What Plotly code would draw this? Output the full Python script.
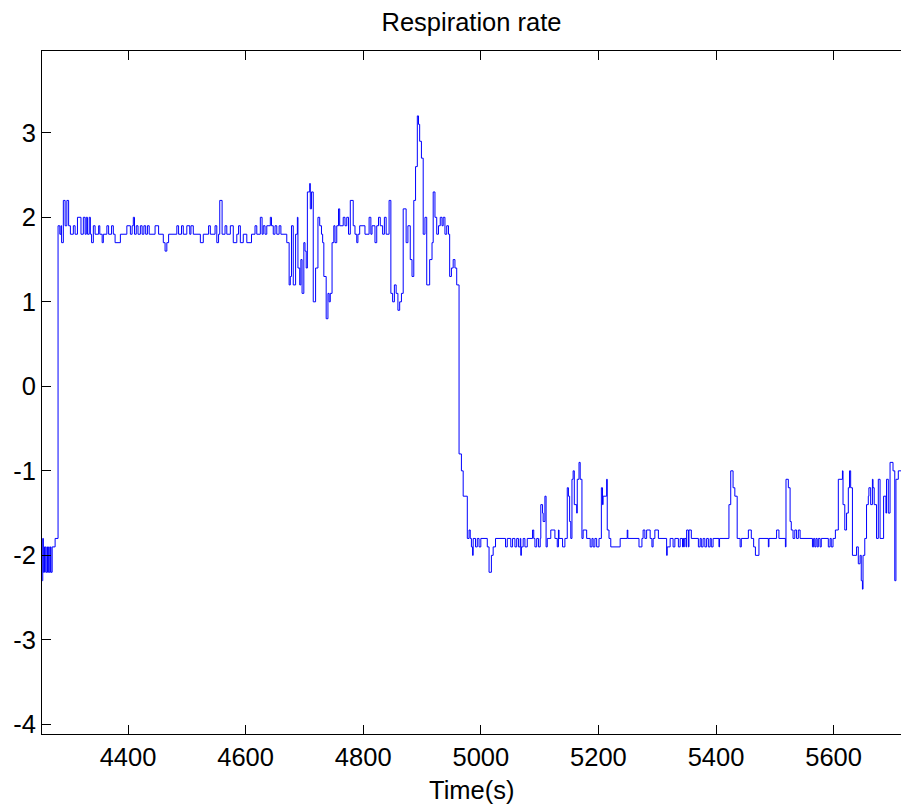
import plotly.graph_objects as go

# Respiration-rate record: each entry marks the time (s) at which the
# sampled value changes; the trace holds the value until the next entry.
time_s = [
    4254, 4255, 4256, 4258, 4260, 4262, 4263, 4265, 4266, 4268, 4269, 4271, 4276,
    4281, 4284, 4286, 4287, 4290, 4293, 4296, 4299, 4302, 4307, 4310, 4314, 4320,
    4324, 4327, 4329, 4331, 4334, 4336, 4338, 4341, 4344, 4350, 4352, 4356, 4358,
    4364, 4367, 4372, 4375, 4378, 4387, 4398, 4404, 4407, 4409, 4411, 4414, 4417,
    4421, 4424, 4427, 4430, 4433, 4436, 4446, 4452, 4460, 4463, 4466, 4469, 4483,
    4486, 4491, 4494, 4500, 4505, 4507, 4511, 4523, 4528, 4537, 4540, 4548, 4551,
    4554, 4556, 4560, 4565, 4568, 4574, 4579, 4585, 4588, 4591, 4596, 4602, 4610,
    4616, 4619, 4625, 4628, 4630, 4633, 4636, 4642, 4644, 4647, 4650, 4653, 4657,
    4660, 4670, 4674, 4676, 4678, 4681, 4685, 4688, 4689, 4692, 4694, 4696, 4699,
    4701, 4703, 4705, 4709, 4710, 4712, 4715, 4719, 4723, 4726, 4729, 4731, 4733,
    4737, 4740, 4742, 4744, 4747, 4750, 4752, 4755, 4758, 4760, 4766, 4769, 4772,
    4775, 4778, 4783, 4786, 4789, 4791, 4794, 4803, 4810, 4813, 4815, 4820, 4823,
    4826, 4829, 4833, 4836, 4839, 4844, 4847, 4850, 4853, 4856, 4859, 4862, 4865,
    4868, 4873, 4876, 4880, 4883, 4886, 4889, 4892, 4894, 4896, 4899, 4902, 4905,
    4908, 4913, 4917, 4919, 4922, 4925, 4928, 4931, 4934, 4936, 4939, 4942, 4945,
    4947, 4950, 4953, 4956, 4959, 4963, 4967, 4970, 4977, 4980, 4982, 4984, 4986,
    4987, 4991, 4994, 4997, 5000, 5011, 5014, 5018, 5021, 5025, 5042, 5045, 5051,
    5054, 5058, 5061, 5064, 5067, 5068, 5069, 5072, 5075, 5079, 5088, 5090, 5092,
    5095, 5098, 5101, 5102, 5105, 5106, 5109, 5111, 5113, 5119, 5126, 5130, 5132,
    5133, 5139, 5143, 5147, 5149, 5151, 5153, 5155, 5157, 5159, 5163, 5164, 5167,
    5169, 5172, 5174, 5180, 5186, 5189, 5191, 5194, 5197, 5201, 5205, 5207, 5208,
    5214, 5215, 5218, 5221, 5237, 5249, 5250, 5269, 5274, 5276, 5279, 5282, 5288,
    5291, 5293, 5296, 5302, 5316, 5317, 5322, 5327, 5330, 5336, 5339, 5343, 5344,
    5345, 5346, 5349, 5350, 5353, 5354, 5358, 5370, 5373, 5375, 5378, 5381, 5384,
    5387, 5390, 5392, 5395, 5405, 5406, 5422, 5425, 5429, 5432, 5436, 5441, 5443,
    5455, 5460, 5464, 5467, 5473, 5489, 5490, 5503, 5507, 5518, 5519, 5523, 5526,
    5528, 5531, 5534, 5537, 5540, 5543, 5564, 5566, 5568, 5570, 5572, 5574, 5577,
    5579, 5591, 5594, 5596, 5599, 5603, 5608, 5615, 5616, 5619, 5622, 5625, 5627,
    5629, 5632, 5639, 5642, 5645, 5647, 5649, 5650, 5653, 5656, 5659, 5660, 5663,
    5666, 5667, 5669, 5673, 5676, 5679, 5685, 5689, 5690, 5693, 5696, 5701, 5704,
    5706, 5710, 5715,
]

rate = [
    -2.3, -1.8, -2.2, -1.9, -2.2, -1.9, -2.2, -1.9, -2.2, -1.9, -2.2, -1.9, -1.8,
    1.9, 1.8, 1.9, 1.7, 2.2, 1.9, 2.2, 1.9, 1.8, 1.9, 1.8, 2.0, 1.8,
    2.0, 1.8, 2.0, 1.8, 2.0, 1.8, 1.7, 1.9, 1.8, 1.9, 1.8, 1.7, 1.8,
    1.9, 1.8, 1.9, 1.8, 1.7, 1.8, 1.9, 1.8, 1.9, 2.0, 1.8, 1.9, 1.8,
    1.9, 1.8, 1.9, 1.8, 1.9, 1.8, 1.9, 1.8, 1.7, 1.6, 1.7, 1.8, 1.9,
    1.8, 1.9, 1.8, 1.9, 1.8, 1.9, 1.8, 1.7, 1.8, 1.9, 1.8, 1.9, 1.7,
    1.8, 2.2, 1.8, 1.9, 1.8, 1.9, 1.7, 1.8, 1.9, 1.7, 1.8, 1.7, 1.8,
    1.9, 1.8, 2.0, 1.8, 1.9, 1.8, 1.9, 2.0, 1.9, 1.8, 1.9, 1.8, 1.9,
    1.8, 1.7, 1.2, 1.3, 1.9, 1.2, 1.8, 2.0, 1.4, 1.2, 1.5, 1.1, 1.7,
    1.6, 1.4, 2.3, 2.4, 2.1, 2.3, 1.0, 1.4, 2.0, 1.9, 1.8, 1.7, 1.3,
    0.8, 1.1, 1.0, 1.1, 1.7, 1.9, 1.7, 1.9, 2.1, 1.9, 2.0, 1.9, 2.0,
    1.8, 2.2, 1.9, 1.8, 1.7, 1.8, 1.9, 1.8, 2.0, 1.8, 1.9, 1.7, 1.9,
    2.0, 1.9, 1.8, 2.0, 1.8, 2.2, 1.1, 1.0, 1.2, 1.1, 0.9, 1.0, 1.1,
    2.1, 1.7, 1.9, 1.5, 1.3, 2.2, 2.6, 3.2, 3.1, 2.9, 2.7, 1.8, 2.0,
    1.2, 1.5, 1.7, 2.3, 2.0, 1.8, 1.9, 2.0, 1.9, 2.0, 1.8, 1.9, 1.8,
    1.3, 1.4, 1.5, 1.4, 1.2, -0.8, -1.0, -1.3, -1.8, -1.7, -1.8, -1.9, -2.0,
    -1.8, -1.9, -1.8, -1.9, -1.8, -1.9, -2.2, -2.0, -1.9, -1.8, -1.9, -1.8, -1.9,
    -1.8, -1.9, -1.8, -1.9, -1.8, -2.0, -1.9, -1.8, -1.9, -1.8, -1.7, -1.8, -1.9,
    -1.8, -1.9, -1.8, -1.4, -1.5, -1.6, -1.3, -1.9, -1.8, -1.7, -1.8, -1.9, -1.7,
    -1.8, -1.9, -1.8, -1.2, -1.3, -1.6, -1.8, -1.1, -1.0, -1.4, -1.5, -1.1, -0.9,
    -1.1, -1.8, -1.7, -1.8, -1.9, -1.8, -1.9, -1.8, -1.9, -1.8, -1.2, -1.4, -1.3,
    -1.1, -1.7, -1.8, -1.9, -1.8, -1.7, -1.8, -1.9, -1.8, -1.7, -1.8, -1.7, -1.8,
    -1.9, -1.8, -1.7, -1.8, -2.0, -1.9, -1.8, -1.9, -1.8, -1.9, -1.8, -1.9, -1.8,
    -1.9, -1.8, -1.9, -1.7, -1.9, -1.7, -1.8, -1.9, -1.8, -1.9, -1.8, -1.9, -1.8,
    -1.9, -1.8, -1.9, -1.8, -1.9, -1.8, -1.4, -1.0, -1.2, -1.3, -1.8, -1.9, -1.8,
    -1.7, -1.8, -1.9, -2.0, -1.8, -1.9, -1.8, -1.7, -1.8, -1.9, -1.1, -1.2, -1.6,
    -1.7, -1.8, -1.7, -1.8, -1.7, -1.8, -1.9, -1.8, -1.9, -1.8, -1.9, -1.8, -1.9,
    -1.8, -1.9, -1.8, -1.9, -1.8, -1.7, -1.1, -1.0, -1.4, -1.7, -1.5, -1.2, -1.0,
    -1.2, -2.0, -1.9, -2.1, -2.0, -2.3, -2.4, -2.0, -1.8, -1.4, -1.3, -1.2, -1.4,
    -1.1, -1.2, -1.4, -1.8, -1.1, -1.8, -1.3, -1.5, -1.1, -1.5, -0.9, -1.0, -2.3,
    -1.1, -1.0, -1.0,
]

x_ticks = [4400, 4600, 4800, 5000, 5200, 5400, 5600]
x_tick_labels = ["4400", "4600", "4800", "5000", "5200", "5400", "5600"]
y_ticks = [-4, -3, -2, -1, 0, 1, 2, 3]
y_tick_labels = ["-4", "-3", "-2", "-1", "0", "1", "2", "3"]

x_limits = [4253.7, 5714.6]
y_limits = [-4.114, 3.968]

font_family = "Liberation Sans, Arial, Helvetica, sans-serif"
font_size = 25.5
text_font = dict(family=font_family, size=font_size, color="black")

fig = go.Figure(
    go.Scatter(
        x=time_s,
        y=rate,
        mode="lines",
        line=dict(color="#0000FF", width=1, shape="hv"),
        showlegend=False,
        hoverinfo="x+y",
    )
)

tick_style = dict(
    ticks="inside",
    ticklen=9,
    tickwidth=1,
    tickcolor="black",
    showgrid=False,
    zeroline=False,
    tickfont=text_font,
)

fig.update_layout(
    width=901,
    height=804,
    margin=dict(l=42, r=0, t=51, b=70),
    paper_bgcolor="white",
    plot_bgcolor="white",
    font=text_font,
    title=dict(
        text="Respiration rate",
        x=0.5,
        xref="paper",
        xanchor="center",
        y=1 - 22 / 804,
        yref="container",
        yanchor="middle",
        font=text_font,
    ),
    xaxis=dict(
        range=x_limits,
        tickvals=x_ticks,
        ticktext=x_tick_labels,
        showline=True,
        linecolor="black",
        linewidth=1,
        mirror="ticks",
        **tick_style,
    ),
    yaxis=dict(
        range=y_limits,
        tickvals=y_ticks,
        ticktext=y_tick_labels,
        showline=True,
        linecolor="black",
        linewidth=1,
        mirror=False,
        **tick_style,
    ),
    # tick marks along the right edge of the box
    yaxis2=dict(
        range=y_limits,
        overlaying="y",
        side="right",
        tickvals=y_ticks,
        showticklabels=False,
        showline=False,
        **tick_style,
    ),
    annotations=[
        dict(
            text="Time(s)",
            x=0.5,
            xref="paper",
            xanchor="center",
            y=-(790 - 734) / 683,
            yref="paper",
            yanchor="middle",
            showarrow=False,
            font=text_font,
        )
    ],
)

fig.write_html("out.html")
